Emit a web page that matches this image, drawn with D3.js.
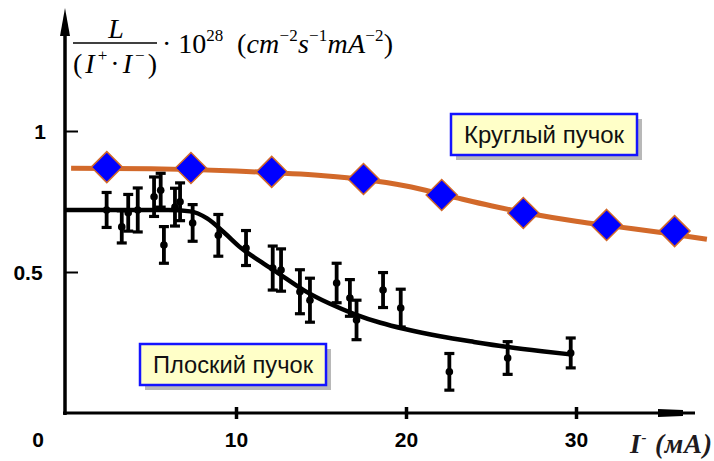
<!DOCTYPE html>
<html><head><meta charset="utf-8">
<script src="https://cdn.jsdelivr.net/npm/d3@7"></script>
<style>
body{margin:0;background:#fff;}
svg{display:block;}
</style></head>
<body>
<svg id="c" width="714" height="461"></svg>
<script>
// ---- data ----
const xTicks = [10, 20, 30];
const yTicks = [0.5, 1];
const yTickLabels = ["0.5", "1"];
// round beam (diamonds)
const roundX = [2.4, 7.35, 12.1, 17.5, 22.1, 26.9, 31.8, 35.8];
const roundY = [0.872, 0.869, 0.855, 0.830, 0.773, 0.709, 0.667, 0.645];
// round beam fit curve
const roundCurveX = [0.3, 5, 10, 15, 17.5, 20, 22.5, 25, 27.5, 30, 32.5, 35, 37.7];
const roundCurveY = [0.868, 0.866, 0.858, 0.842, 0.828, 0.805, 0.770, 0.735, 0.705, 0.680, 0.660, 0.640, 0.616];
// flat beam measurements with errors
const flatX = [2.39, 3.28, 3.66, 4.22, 5.18, 5.57, 5.76, 6.41, 6.71, 7.45, 8.96, 10.59, 12.16, 12.65, 13.76, 14.35, 15.92, 16.7, 17.09, 18.65, 19.69, 22.55, 25.98, 29.69];
const flatY = [0.72, 0.66, 0.71, 0.72, 0.767, 0.79, 0.596, 0.73, 0.749, 0.674, 0.63, 0.585, 0.514, 0.507, 0.43, 0.40, 0.461, 0.408, 0.33, 0.436, 0.372, 0.146, 0.195, 0.213];
const flatErr = [0.062, 0.057, 0.065, 0.078, 0.07, 0.06, 0.065, 0.067, 0.067, 0.065, 0.074, 0.062, 0.078, 0.075, 0.078, 0.078, 0.07, 0.065, 0.07, 0.062, 0.067, 0.065, 0.058, 0.053];
// flat beam fit curve
const flatCurveX = [0, 3, 6, 7.3, 8.3, 9.3, 10.3, 11.5, 12.5, 14, 15.5, 17, 18.5, 20, 22, 24, 26, 28, 29.8];
const flatCurveY = [0.72, 0.72, 0.72, 0.715, 0.69, 0.64, 0.585, 0.535, 0.495, 0.435, 0.388, 0.35, 0.32, 0.297, 0.272, 0.252, 0.234, 0.219, 0.207];
const legendLabels = ["Круглый пучок", "Плоский пучок"];

// ---- drawing ----
const svg = d3.select("#c");
const x = d3.scaleLinear().domain([0, 30]).range([66, 576]);
const y = d3.scaleLinear().domain([0, 1]).range([413, 131]);
const orange = "#d2692a";
const sans = "Liberation Sans, Arial, sans-serif";

// axes lines
svg.append("line").attr("x1", x(0)-1).attr("x2", x(0)-1).attr("y1", 30).attr("y2", y(0)+2)
  .attr("stroke", "#000").attr("stroke-width", 3.5);
svg.append("path").attr("d", `M${x(0)-1},8 L${x(0)+4},36 L${x(0)-6},36 Z`).attr("fill", "#000");
svg.append("line").attr("x1", x(0)-3).attr("x2", 695).attr("y1", y(0)).attr("y2", y(0))
  .attr("stroke", "#000").attr("stroke-width", 3.2);
svg.append("path").attr("d", `M658,${y(0)-4} L683,${y(0)-3} L683,${y(0)+3} L658,${y(0)+4} Z`).attr("fill", "#000");

// x axis ticks
const xa = svg.append("g").attr("transform", `translate(0,${y(0)})`)
  .call(d3.axisBottom(x).tickValues(xTicks).tickSizeInner(6).tickSizeOuter(0).tickFormat(d3.format("d")));
xa.select(".domain").remove();
xa.selectAll(".tick line").attr("y1", -6).attr("y2", 6).attr("stroke-width", 3.5);
xa.selectAll(".tick text").attr("y", 34).attr("dy", 0)
  .attr("font-family", sans).attr("font-weight", "bold").attr("font-size", 21).attr("fill", "#000");
// corner zero label
svg.append("text").attr("x", 38).attr("y", 447).attr("text-anchor", "middle")
  .attr("font-family", sans).attr("font-weight", "bold").attr("font-size", 21).text("0");

// y axis ticks
const ya = svg.append("g").attr("transform", `translate(${x(0)-1},0)`)
  .call(d3.axisLeft(y).tickValues(yTicks).tickSizeInner(-13).tickSizeOuter(0).tickFormat((d, i) => yTickLabels[i]));
ya.select(".domain").remove();
ya.selectAll(".tick line").attr("stroke-width", 2);
ya.selectAll(".tick text").attr("x", -25).attr("dy", "0.36em").attr("text-anchor", "middle")
  .attr("font-family", sans).attr("font-weight", "bold").attr("font-size", 21).attr("fill", "#000");
ya.selectAll(".tick text").filter(d => d === 0.5).attr("x", -37);

// round curve
const line = d3.line().x(d => x(d[0])).y(d => y(d[1])).curve(d3.curveMonotoneX);
svg.append("path").datum(d3.zip(roundCurveX, roundCurveY)).attr("d", line)
  .attr("fill", "none").attr("stroke", orange).attr("stroke-width", 5);

// flat curve
svg.append("path").datum(d3.zip(flatCurveX, flatCurveY)).attr("d", line)
  .attr("fill", "none").attr("stroke", "#000").attr("stroke-width", 4.5);

// flat error bars
const flat = d3.zip(flatX, flatY, flatErr);
const eg = svg.append("g");
eg.selectAll("line.v").data(flat).join("line").attr("class", "v")
  .attr("x1", d => x(d[0])).attr("x2", d => x(d[0]))
  .attr("y1", d => y(d[1] + d[2])).attr("y2", d => y(d[1] - d[2]))
  .attr("stroke", "#000").attr("stroke-width", 3.8);
eg.selectAll("line.t").data(flat).join("line").attr("class", "t")
  .attr("x1", d => x(d[0]) - 5).attr("x2", d => x(d[0]) + 5)
  .attr("y1", d => y(d[1] + d[2])).attr("y2", d => y(d[1] + d[2]))
  .attr("stroke", "#000").attr("stroke-width", 3.2);
eg.selectAll("line.b").data(flat).join("line").attr("class", "b")
  .attr("x1", d => x(d[0]) - 5).attr("x2", d => x(d[0]) + 5)
  .attr("y1", d => y(d[1] - d[2])).attr("y2", d => y(d[1] - d[2]))
  .attr("stroke", "#000").attr("stroke-width", 3.2);
eg.selectAll("circle").data(flat).join("circle")
  .attr("cx", d => x(d[0])).attr("cy", d => y(d[1])).attr("r", 3.8).attr("fill", "#000");

// diamonds
svg.append("g").selectAll("path").data(d3.zip(roundX, roundY)).join("path")
  .attr("d", d => { const cx = x(d[0]), cy = y(d[1]), r = 15.5; return `M${cx},${cy-r} L${cx+r},${cy} L${cx},${cy+r} L${cx-r},${cy} Z`; })
  .attr("fill", "#0000ff").attr("stroke", orange).attr("stroke-width", 1.5);

// legend boxes
function box(x0, y0, w, h, label) {
  svg.append("rect").attr("x", x0 + 5).attr("y", y0 + 5).attr("width", w).attr("height", h).attr("fill", "#9a9a9a").attr("opacity", 0.7);
  svg.append("rect").attr("x", x0).attr("y", y0).attr("width", w).attr("height", h)
    .attr("fill", "#ffffc8").attr("stroke", "#1414ff").attr("stroke-width", 2.5);
  svg.append("text").attr("x", x0 + w / 2).attr("y", y0 + h / 2 + 8).attr("text-anchor", "middle")
    .attr("font-family", sans).attr("font-size", 23).attr("textLength", 160).attr("lengthAdjust", "spacingAndGlyphs")
    .attr("fill", "#111").text(label);
}
box(451, 114, 186, 41, legendLabels[0]);
box(140, 344, 186, 41, legendLabels[1]);

// y-axis title (formula)
const serif = "Liberation Serif, Times New Roman, serif";
svg.append("text").attr("x", 116).attr("y", 38).attr("text-anchor", "middle").attr("font-family", serif)
  .attr("font-style", "italic").attr("font-size", 28).text("L");
svg.append("line").attr("x1", 73).attr("x2", 157).attr("y1", 43).attr("y2", 43).attr("stroke", "#000").attr("stroke-width", 1.5);
const den = svg.append("text").attr("x", 73).attr("y", 73).attr("font-family", serif).attr("font-size", 28)
  .attr("textLength", 84).attr("lengthAdjust", "spacing");
den.append("tspan").text("(");
den.append("tspan").attr("font-style", "italic").text("I");
den.append("tspan").attr("font-size", 17).attr("dy", -12).text("+");
den.append("tspan").attr("dy", 12).text("·");
den.append("tspan").attr("font-style", "italic").text("I");
den.append("tspan").attr("font-size", 17).attr("dy", -12).text("−");
den.append("tspan").attr("dy", 12).text(")");
const mul = svg.append("text").attr("x", 162).attr("y", 53).attr("font-family", serif).attr("font-size", 28);
mul.append("tspan").text("· 10");
mul.append("tspan").attr("font-size", 17).attr("dy", -12).text("28");
const un = svg.append("text").attr("x", 237).attr("y", 53).attr("font-family", serif).attr("font-size", 28)
  .attr("textLength", 156).attr("lengthAdjust", "spacing");
un.append("tspan").text("(");
un.append("tspan").attr("font-style", "italic").text("cm");
un.append("tspan").attr("font-size", 17).attr("dy", -12).text("−2");
un.append("tspan").attr("dy", 12).attr("font-style", "italic").text("s");
un.append("tspan").attr("font-size", 17).attr("dy", -12).text("−1");
un.append("tspan").attr("dy", 12).attr("font-style", "italic").text("mA");
un.append("tspan").attr("font-size", 17).attr("dy", -12).text("−2");
un.append("tspan").attr("dy", 12).text(")");

// x-axis title
const xt = svg.append("text").attr("x", 630).attr("y", 453).attr("font-family", serif)
  .attr("font-style", "italic").attr("font-weight", "bold").attr("font-size", 27).attr("fill", "#1e1a20")
  .attr("textLength", 82).attr("lengthAdjust", "spacing");
xt.append("tspan").text("I");
xt.append("tspan").attr("font-size", 15).attr("dy", -11).text("-");
xt.append("tspan").attr("dy", 11).text(" (мA)");
</script>
</body></html>
